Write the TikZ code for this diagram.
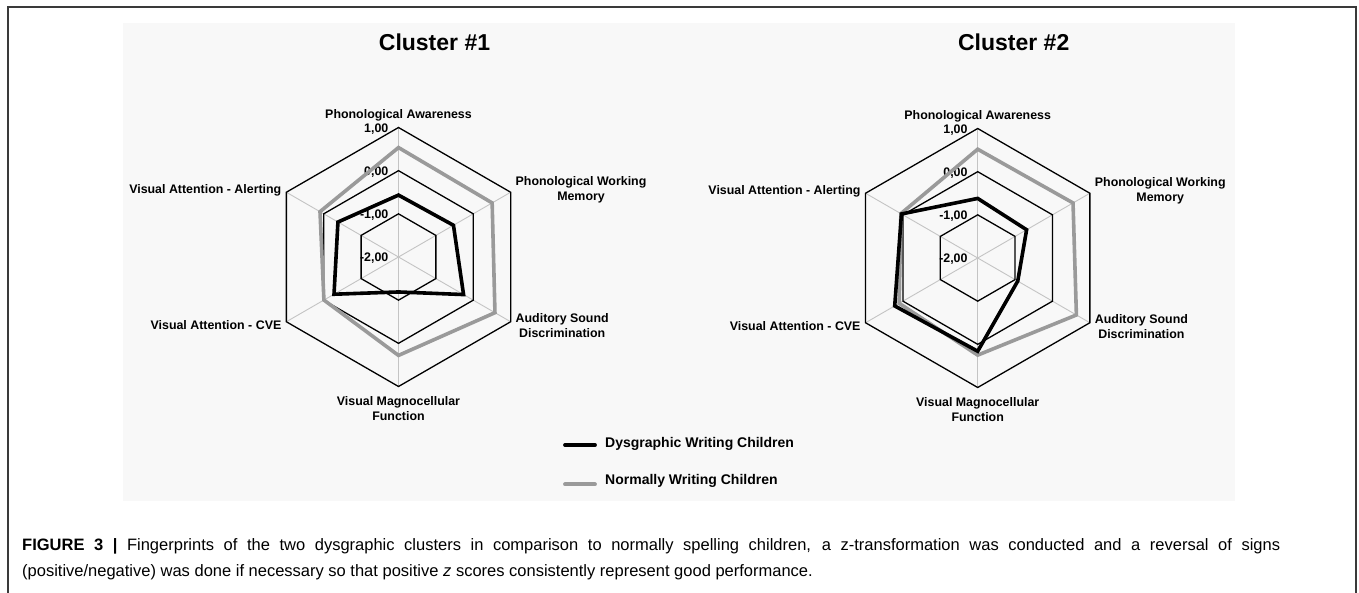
\documentclass[tikz,border=0pt]{standalone}
\usepackage{fontspec}
\setmainfont{Liberation Sans}
\definecolor{plotbg}{HTML}{F8F8F8}
\definecolor{normgray}{HTML}{9A9A9A}
\definecolor{spokegray}{HTML}{C4C4C4}
\definecolor{framec}{HTML}{3A3A3A}
\def\RR{129.5}
\newcommand\datapoly[7]{\draw[#1] (90:#2*\RR) -- (30:#3*\RR) -- (-30:#4*\RR) -- (-90:#5*\RR) -- (210:#6*\RR) -- (150:#7*\RR) -- cycle;}
\newcommand\radargrid[1]{%
  \foreach \a in {90,30,-30,-90,210,150} \draw[spoke] (0,0) -- (\a:\RR);
  \foreach \k in {1,2,3} \draw[ring] (90:\k*\RR/3) -- (30:\k*\RR/3) -- (-30:\k*\RR/3) -- (-90:\k*\RR/3) -- (210:\k*\RR/3) -- (150:\k*\RR/3) -- cycle;
  \node[lab, anchor=base] (#1pa) at (0,\RR+9) {Phonological Awareness};
  \node[lab, anchor=west] (#1pwm) at (117,67) {Phonological Working\\Memory};
  \node[lab, anchor=west] (#1asd) at (117,-68.5) {Auditory Sound\\Discrimination};
  \node[lab, anchor=center] (#1vmf) at (0,-\RR-22) {Visual Magnocellular\\Function};
  \node[lab, anchor=east] (#1cve) at (-117,-68.5) {Visual Attention - CVE};
  \node[lab, anchor=east] (#1al) at (-117,66.5) {Visual Attention - Alerting};
  \node[tick] (#1t3) at (-10,\RR-5) {1,00};
  \node[tick] (#1t2) at (-10,2*\RR/3-5) {0,00};
  \node[tick] (#1t1) at (-10,\RR/3-5) {-1,00};
  \node[tick] (#1t0) at (-10,-5) {-2,00};
}
\begin{document}
\begin{tikzpicture}[x=1pt,y=1pt,
  lab/.style={font=\bfseries\fontsize{12.4}{15}\selectfont, align=center, inner sep=0pt},
  tick/.style={font=\bfseries\fontsize{12.4}{14}\selectfont, inner sep=0pt, anchor=base east},
  ring/.style={black, line width=1.3pt, line join=miter},
  spoke/.style={spokegray, line width=0.9pt},
  dys/.style={black, line width=3.6pt, line join=miter},
  nor/.style={normgray, line width=3.6pt, line join=miter},
  ttl/.style={font=\bfseries\fontsize{23}{26}\selectfont, inner sep=0pt},
  leg/.style={font=\bfseries\fontsize{14}{16}\selectfont, inner sep=0pt, anchor=west},
  legline/.style={line width=3.8pt, line cap=round},
  captext/.style={font=\fontsize{16.5}{20}\selectfont, inner sep=0pt, anchor=base west}
]
\useasboundingbox (0,0) rectangle (1359,592);
\fill[white] (0,0) rectangle (1359,592);
\fill[plotbg] (123,91) rectangle (1235,569.3);
\draw[framec, line width=1.8pt] (7.7,-5) -- (7.7,584.7) -- (1355.7,584.7) -- (1355.7,-5);

% Cluster 1
\node[ttl] (title1) at (434.5,550) {Cluster \#1};
\begin{scope}[shift={(398.5,335)}]
  \radargrid{a}
  \datapoly{nor}{0.845}{0.835}{0.86}{0.76}{0.665}{0.70}
  \datapoly{dys}{0.478}{0.49}{0.58}{0.27}{0.575}{0.54}
\end{scope}

% Cluster 2
\node[ttl] (title2) at (1013.7,550) {Cluster \#2};
\begin{scope}[shift={(977.7,334)}]
  \radargrid{b}
  \datapoly{nor}{0.84}{0.85}{0.88}{0.75}{0.70}{0.685}
  \datapoly{dys}{0.46}{0.436}{0.357}{0.72}{0.74}{0.68}
\end{scope}

% Legend
\draw[legline, black] (565,147) -- (595,147);
\node[leg] (legd) at (605,148.5) {Dysgraphic Writing Children};
\draw[legline, normgray] (565,107.7) -- (595,107.7);
\node[leg] (legn) at (605,111.3) {Normally Writing Children};

% Caption
\node[captext] (cap1) at (22,42) {\makebox[1258pt][s]{\textbf{FIGURE 3 |} Fingerprints of the two dysgraphic clusters in comparison to normally spelling children, a z-transformation was conducted and a reversal of signs}};
\node[captext] (cap2) at (22,16) {(positive/negative) was done if necessary so that positive \textit{z} scores consistently represent good performance.};
\end{tikzpicture}
\end{document}
